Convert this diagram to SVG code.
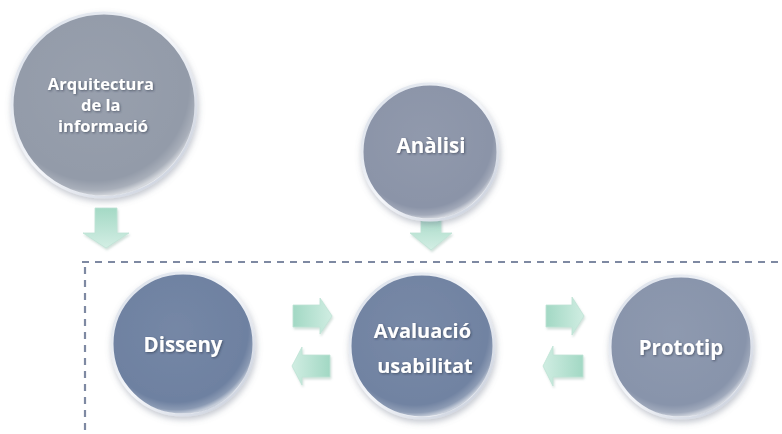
<svg xmlns="http://www.w3.org/2000/svg" width="782" height="434" viewBox="0 0 782 434">
  <defs>
    <filter id="soft" x="-20%" y="-20%" width="140%" height="140%">
      <feGaussianBlur in="SourceAlpha" stdDeviation="3"/>
      <feOffset dx="1" dy="3" result="b"/>
      <feFlood flood-color="#6b7488" flood-opacity="0.4"/>
      <feComposite in2="b" operator="in" result="s"/>
      <feMerge><feMergeNode in="s"/><feMergeNode in="SourceGraphic"/></feMerge>
    </filter>
    <filter id="arrowShade" x="-30%" y="-30%" width="160%" height="160%">
      <feGaussianBlur in="SourceAlpha" stdDeviation="1.2"/>
      <feOffset dx="0.5" dy="1.5" result="b"/>
      <feFlood flood-color="#7fa898" flood-opacity="0.35"/>
      <feComposite in2="b" operator="in" result="s"/>
      <feMerge><feMergeNode in="s"/><feMergeNode in="SourceGraphic"/></feMerge>
    </filter>
    <filter id="txtShadow" x="-10%" y="-30%" width="120%" height="160%">
      <feGaussianBlur in="SourceAlpha" stdDeviation="0.8"/>
      <feOffset dx="0.8" dy="1" result="b"/>
      <feFlood flood-color="#2b3447" flood-opacity="0.6"/>
      <feComposite in2="b" operator="in" result="s"/>
      <feMerge><feMergeNode in="s"/><feMergeNode in="SourceGraphic"/></feMerge>
    </filter>
    <!-- glassy sheen over each disc -->
    <radialGradient id="sheen" cx="45%" cy="40%" r="60%">
      <stop offset="0" stop-color="#ffffff" stop-opacity="0.05"/>
      <stop offset="0.86" stop-color="#ffffff" stop-opacity="0"/>
      <stop offset="0.95" stop-color="#ffffff" stop-opacity="0.2"/>
      <stop offset="1" stop-color="#ffffff" stop-opacity="0.6"/>
    </radialGradient>
    <linearGradient id="rim" x1="0" y1="0" x2="1" y2="1">
      <stop offset="0" stop-color="#d8dee8"/>
      <stop offset="0.5" stop-color="#f4f6fa"/>
      <stop offset="1" stop-color="#c3cad8"/>
    </linearGradient>
    <linearGradient id="mintV" x1="0" y1="0" x2="0" y2="1">
      <stop offset="0" stop-color="#a4d9c5"/>
      <stop offset="1" stop-color="#d3eee4"/>
    </linearGradient>
    <linearGradient id="mintR" x1="0" y1="0" x2="1" y2="0">
      <stop offset="0" stop-color="#a2d8c4"/>
      <stop offset="1" stop-color="#d0ede2"/>
    </linearGradient>
    <linearGradient id="mintL" x1="1" y1="0" x2="0" y2="0">
      <stop offset="0" stop-color="#a2d8c4"/>
      <stop offset="1" stop-color="#d0ede2"/>
    </linearGradient>
    <style>
      .disc { stroke: url(#rim); stroke-width: 3; }
      .gloss { fill: url(#sheen); }
      .lbl { font-family: "Open Sans", "DejaVu Sans", sans-serif; font-weight: 700; fill: #ffffff; text-anchor: middle; }
      .frame { fill: none; stroke: #7e89a2; stroke-width: 2.2; stroke-dasharray: 7 6; }
      .down { fill: url(#mintV); stroke: #bfe3d6; stroke-width: 0.8; }
      .right { fill: url(#mintR); stroke: #bfe3d6; stroke-width: 0.8; }
      .left { fill: url(#mintL); stroke: #bfe3d6; stroke-width: 0.8; }
    </style>
  </defs>

  <rect width="782" height="434" fill="#ffffff"/>

  <!-- dashed frame around the iterative cycle -->
  <g id="frame">
    <path class="frame" d="M82 262 H782"/>
    <path class="frame" d="M85 267 V434"/>
  </g>

  <!-- block arrows -->
  <g id="connectors" filter="url(#arrowShade)">
    <path class="down" d="M95 208 H117 V233 H129 L106 248 L83 233 H95 Z"/>
    <path class="down" d="M421 214 H441 V233 H452 L431 250 L410 233 H421 Z"/>
    <path class="right" d="M293 305 H320 V298 L332 316 L320 334 V327 H293 Z"/>
    <path class="left" d="M330 355 H302 V347 L292 366 L302 385 V377 H330 Z"/>
    <path class="right" d="M546 305 H572 V297 L584 316 L572 335 V327 H546 Z"/>
    <path class="left" d="M583 355 H553 V346 L543 366 L553 386 V377 H583 Z"/>
  </g>

  <g id="arquitectura" filter="url(#soft)">
    <circle class="disc" cx="104" cy="105" r="92" fill="#939ba9"/>
    <circle class="gloss" cx="104" cy="105" r="91"/>
    <text class="lbl" font-size="16.5" filter="url(#txtShadow)">
      <tspan x="103" y="90">Arquitectura</tspan>
      <tspan x="103" y="111">de la</tspan>
      <tspan x="103" y="132">informació</tspan>
    </text>
  </g>

  <g id="analisi" filter="url(#soft)">
    <circle class="disc" cx="430" cy="152" r="68" fill="#8b94a8"/>
    <circle class="gloss" cx="430" cy="152" r="67"/>
    <text class="lbl" font-size="20.5" x="431" y="153" filter="url(#txtShadow)">Anàlisi</text>
  </g>

  <g id="disseny" filter="url(#soft)">
    <circle class="disc" cx="183" cy="344" r="71" fill="#6e81a1"/>
    <circle class="gloss" cx="183" cy="344" r="70"/>
    <text class="lbl" font-size="20.5" x="183" y="352" filter="url(#txtShadow)">Disseny</text>
  </g>

  <g id="avaluacio" filter="url(#soft)">
    <circle class="disc" cx="422" cy="346" r="72" fill="#7183a2"/>
    <circle class="gloss" cx="422" cy="346" r="71"/>
    <text class="lbl" font-size="20" filter="url(#txtShadow)">
      <tspan x="425" y="338">Avaluació</tspan>
      <tspan x="425" y="373">usabilitat</tspan>
    </text>
  </g>

  <g id="prototip" filter="url(#soft)">
    <circle class="disc" cx="681" cy="347" r="71" fill="#8894ab"/>
    <circle class="gloss" cx="681" cy="347" r="70"/>
    <text class="lbl" font-size="20.5" x="681" y="355" filter="url(#txtShadow)">Prototip</text>
  </g>
</svg>
